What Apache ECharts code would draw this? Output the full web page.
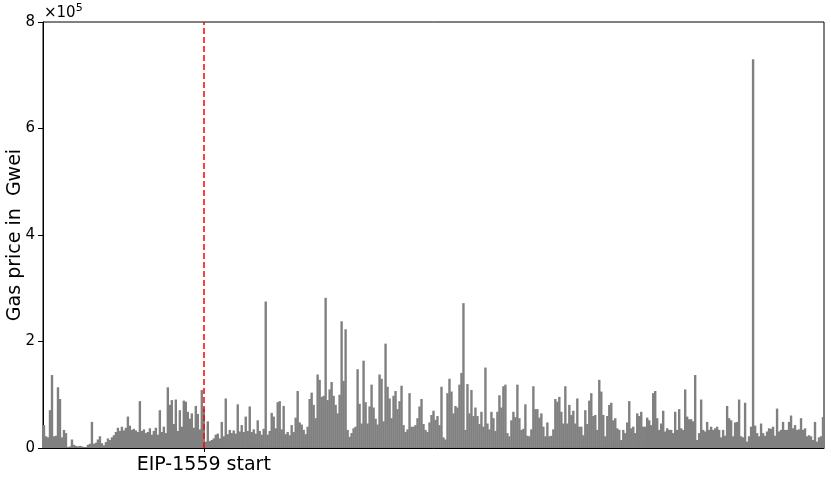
<!doctype html>
<html lang="en">
<head>
	<meta charset="UTF-8">
	<title>Gas price around EIP-1559</title>
	<script src="https://cdn.jsdelivr.net/npm/echarts@6/dist/echarts.min.js"></script>
	<style>
		html, body { margin: 0; padding: 0; background: #fff; }
		#main { width: 831px; height: 480px; }
	</style>
</head>
<body>
<div id="main"></div>
<script type="text/javascript">
	// gas price samples, in units of 10^4 Gwei
	var gasPreEip = [
		4.3, 2.2, 2.0, 7.1, 13.7, 2.2, 2.3, 11.4, 9.2, 2.0,
		3.4, 2.8, 0.2, 0.3, 1.6, 0.6, 0.4, 0.3, 0.4, 0.3,
		0.2, 0.2, 0.6, 0.8, 4.9, 0.8, 1.0, 1.6, 2.2, 0.9,
		0.5, 1.1, 1.8, 1.5, 2.0, 2.4, 3.0, 3.8, 3.2, 4.0,
		3.3, 3.8, 5.9, 4.2, 3.4, 3.6, 3.3, 3.0, 8.8, 3.2,
		3.5, 2.8, 3.0, 3.7, 2.5, 3.2, 3.8, 2.5, 7.1, 3.0,
		4.0, 2.8, 11.4, 8.1, 9.0, 4.5, 9.1, 3.2, 7.1, 4.0,
		8.9, 8.7, 6.8, 5.5, 6.5, 3.8, 7.9, 6.4, 3.5, 10.9,
		7.4
	];
	var gasPostEip = [
		1.2, 5.0, 1.3, 1.5, 1.8, 2.5, 2.7, 1.8, 4.9, 2.2,
		9.3, 2.6, 3.4, 2.8, 3.3, 2.7, 8.2, 3.1, 4.3, 3.0,
		5.9, 3.2, 7.8, 3.0, 3.5, 2.7, 5.2, 3.2, 2.5, 3.6,
		27.5, 2.5, 3.2, 6.6, 5.9, 3.7, 8.6, 8.8, 3.5, 7.9,
		2.6, 3.0, 2.4, 4.3, 3.0, 5.7, 10.7, 4.8, 4.4, 3.4,
		2.6, 4.0, 9.2, 10.4, 8.1, 5.6, 13.8, 12.8, 9.6, 9.8,
		28.2, 9.0, 11.0, 12.4, 9.8, 8.1, 6.5, 10.0, 23.8, 12.6,
		22.3, 3.4, 2.1, 2.8, 3.7, 4.0, 14.8, 8.3, 4.6, 16.4,
		8.6, 4.6, 7.8, 11.9, 7.6, 5.5, 4.4, 13.8, 13.0, 5.0,
		19.6, 11.5, 9.3, 5.6, 9.8, 10.7, 7.3, 8.8, 11.7, 4.3,
		3.0, 3.5, 10.3, 4.0, 4.0, 4.3, 5.6, 7.8, 9.2, 4.5,
		3.4, 3.0, 4.8, 6.2, 7.0, 5.3, 6.0, 4.3, 11.5, 2.0,
		1.6, 10.3, 13.0, 10.6, 6.5, 7.9, 7.6, 11.9, 14.1, 27.2,
		3.4, 12.0, 6.5, 10.9, 6.0, 7.6, 6.0, 4.5, 6.8, 4.0,
		15.1, 4.6, 3.5, 6.8, 5.6, 3.2, 6.8, 9.9, 7.6, 11.6,
		11.9, 2.8, 2.2, 5.2, 6.8, 5.8, 11.9, 5.6, 3.4, 3.6,
		8.2, 2.3, 2.2, 3.5, 11.6, 7.3, 7.3, 5.7, 6.5, 4.0,
		2.2, 4.8, 2.2, 2.3, 3.5, 9.2, 8.7, 9.6, 6.8, 4.6,
		11.6, 4.6, 8.1, 6.2, 7.0, 4.6, 9.3, 4.0, 4.0, 2.4,
		7.1, 4.5, 8.9, 10.3, 6.0, 6.2, 3.4, 12.8, 10.6, 6.2,
		2.2, 6.0, 8.1, 8.5, 5.2, 5.6, 3.7, 3.4, 1.5, 3.4,
		2.8, 4.8, 8.8, 3.7, 4.0, 2.8, 6.5, 6.0, 6.8, 4.0,
		4.0, 5.7, 5.2, 4.3, 10.3, 10.7, 5.6, 3.4, 4.6, 7.0,
		3.1, 3.7, 3.4, 3.4, 2.8, 6.8, 3.4, 7.3, 3.7, 3.4,
		11.0, 5.9, 5.4, 5.4, 5.0, 13.7, 1.5, 2.8, 9.1, 3.4,
		3.1, 4.9, 3.4, 4.0, 3.4, 3.7, 4.0, 3.4, 2.0, 3.4,
		2.3, 7.9, 5.6, 5.2, 2.2, 4.8, 4.9, 9.1, 2.2, 2.0,
		8.5, 1.2, 2.2, 4.0, 73.0, 4.2, 2.8, 2.2, 4.6, 2.8,
		2.3, 3.1, 3.7, 3.6, 4.0, 2.3, 7.4, 3.1, 3.4, 4.9,
		3.4, 3.4, 4.9, 6.1, 3.7, 4.3, 3.4, 3.5, 5.6, 3.4,
		3.7, 2.2, 2.4, 2.2, 1.5, 4.9, 1.2, 2.0, 2.2, 5.8
	];
	var eipLabel = 'EIP-1559 start';
	var yTicks = [0, 2, 4, 6, 8]; // x 10^5 Gwei

	var gasPrice = gasPreEip.concat(gasPostEip).map(function (v) { return v * 1e4; });
	var eipIndex = gasPreEip.length - 1;
	var samples = gasPrice.map(function (v, i) { return String(i); });

	var font = 'DejaVu Sans';
	var myChart = echarts.init(document.getElementById('main'));

	var option = {
		animation: false,
		backgroundColor: '#ffffff',
		grid: {
			left: 43, right: 7, top: 22, bottom: 32,
			show: true, borderColor: '#000', borderWidth: 1,
			containLabel: false,
			outerBoundsMode: 'none'
		},
		xAxis: {
			type: 'category',
			data: samples,
			boundaryGap: true,
			axisLine: { show: true, lineStyle: { color: '#000', width: 1 } },
			axisTick: {
				show: true, length: 4, alignWithLabel: true,
				interval: function (i) { return i === eipIndex; },
				lineStyle: { color: '#000' }
			},
			axisLabel: {
				interval: function (i) { return i === eipIndex; },
				formatter: function (v) { return Number(v) === eipIndex ? eipLabel : ''; },
				color: '#000', fontFamily: font, fontSize: 19, margin: 8
			},
			splitLine: { show: false }
		},
		yAxis: {
			type: 'value',
			min: yTicks[0] * 1e5,
			max: yTicks[yTicks.length - 1] * 1e5,
			interval: 2e5,
			name: 'Gas price in  Gwei',
			nameLocation: 'middle',
			nameGap: 18,
			nameMoveOverlap: false,
			nameTextStyle: { color: '#000', fontFamily: font, fontSize: 19 },
			axisLine: { show: true, lineStyle: { color: '#000', width: 1 } },
			axisTick: { show: true, length: 5, lineStyle: { color: '#000' } },
			axisLabel: {
				color: '#000', fontFamily: font, fontSize: 15, margin: 8,
				formatter: function (v) { return String(v / 1e5); }
			},
			splitLine: { show: false }
		},
		graphic: [{
			type: 'text',
			left: 44, top: 3,
			style: {
				text: '{a|×10}{b|5}',
				rich: {
					a: { fontFamily: font, fontSize: 15, fill: '#000', verticalAlign: 'bottom', lineHeight: 18 },
					b: { fontFamily: font, fontSize: 11, fill: '#000', verticalAlign: 'top', lineHeight: 12 }
				}
			}
		}],
		series: [{
			name: 'gas price',
			type: 'bar',
			data: gasPrice,
			barWidth: 2.4,
			barGap: '-100%',
			silent: true,
			itemStyle: { color: '#808080' },
			markLine: {
				silent: true,
				symbol: 'none',
				label: { show: false },
				lineStyle: { color: '#ff0000', type: [6, 3], width: 1.5 },
				data: [{ xAxis: eipIndex }]
			}
		}]
	};

	myChart.setOption(option);
</script>
</body>
</html>
